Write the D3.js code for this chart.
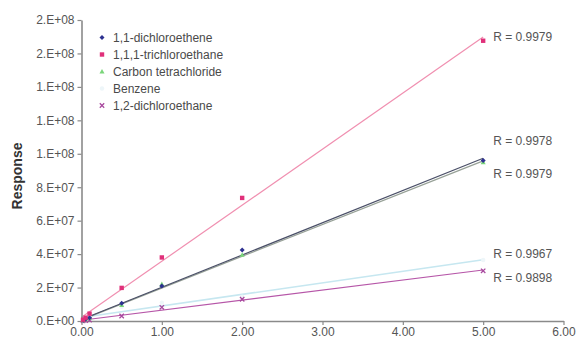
<!DOCTYPE html>
<html>
<head>
<meta charset="utf-8">
<script src="https://cdn.jsdelivr.net/npm/d3@7"></script>
<style>
  html, body { margin: 0; padding: 0; background: #fff; }
  svg { display: block; font-family: "Liberation Sans", Arial, sans-serif; }
</style>
</head>
<body>
<svg id="chart" width="579" height="340"></svg>
<script>
// Calibration concentrations
const concentrations = [0.02, 0.05, 0.1, 0.5, 1.0, 2.0, 5.0];

// Responses per compound
const dichloroethene11 = [0.4e6, 1.0e6, 2.0e6, 1.06e7, 2.1e7, 4.24e7, 9.6e7];
const trichloroethane111 = [0.8e6, 2.0e6, 4.4e6, 1.98e7, 3.8e7, 7.36e7, 1.676e8];
const carbonTetrachloride = [0.4e6, 1.0e6, 2.0e6, 9.6e6, 2.2e7, 3.96e7, 9.5e7];
const benzene = [0.5e6, 1.2e6, 2.4e6, 8.5e6, 1.1e7, 1.45e7, 3.65e7];
const dichloroethane12 = [0.1e6, 0.3e6, 0.6e6, 3.0e6, 8.2e6, 1.3e7, 3.0e7];

const seriesNames = ["1,1-dichloroethene", "1,1,1-trichloroethane", "Carbon tetrachloride", "Benzene", "1,2-dichloroethane"];
const rValues = ["R = 0.9978", "R = 0.9979", "R = 0.9979", "R = 0.9967", "R = 0.9898"];

// Axis ticks
const xTickValues = [0, 1, 2, 3, 4, 5, 6];
const yTickValues = [0, 2e7, 4e7, 6e7, 8e7, 1.0e8, 1.2e8, 1.4e8, 1.6e8, 1.8e8];
const yTickLabels = ["0.E+00", "2.E+07", "4.E+07", "6.E+07", "8.E+07", "1.E+08", "1.E+08", "1.E+08", "2.E+08", "2.E+08"];
const yTitle = "Response";

// Styling per series (kept apart from the values)
const styles = [
  { values: dichloroethene11, color: "#2d3190", line: "#4b5068", shape: "diamond", labelDy: -17 },
  { values: trichloroethane111, color: "#e0307a", line: "#f08fb0", shape: "square", labelDy: 0 },
  { values: carbonTetrachloride, color: "#7ad67a", line: "#6c7a6c", shape: "triangle", labelDy: 13 },
  { values: benzene, color: "#eef6f9", line: "#c6e7f0", shape: "circle", labelDy: -6 },
  { values: dichloroethane12, color: "#a8489e", line: "#b656a8", shape: "cross", labelDy: 8 }
];

const svg = d3.select("#chart");
const x = d3.scaleLinear().domain([0, 6]).range([81.5, 563.5]);
const y = d3.scaleLinear().domain([0, 1.8e8]).range([321, 20]);

const axisColor = "#8a8a8a";
const textColor = "#555";

// Least-squares trend line for each series
function fit(xs, ys) {
  const mx = d3.mean(xs), my = d3.mean(ys);
  let sxy = 0, sxx = 0;
  xs.forEach((v, i) => { sxy += (v - mx) * (ys[i] - my); sxx += (v - mx) * (v - mx); });
  const slope = sxy / sxx;
  return { slope, intercept: my - slope * mx };
}

// Draw order: benzene, purple, green, blue, pink
const order = [3, 4, 2, 0, 1];
order.forEach(i => {
  const s = styles[i];
  const f = fit(concentrations, s.values);
  const x0 = 0, x1 = d3.max(concentrations);
  svg.append("line")
    .attr("x1", x(x0)).attr("y1", y(f.intercept + f.slope * x0))
    .attr("x2", x(x1)).attr("y2", y(f.intercept + f.slope * x1))
    .attr("stroke", s.line).attr("stroke-width", i === 3 ? 1.6 : 1.2)
    .attr("opacity", i === 2 ? 0.7 : 1);
});

// Axes
const xAxis = d3.axisBottom(x).tickValues(xTickValues).tickFormat(d3.format(".2f")).tickSize(4).tickSizeOuter(0);
const gx = svg.append("g").attr("transform", `translate(0,${y(0)})`).call(xAxis);
gx.select(".domain").attr("stroke", axisColor).attr("stroke-width", 1.6);
gx.selectAll(".tick line").attr("stroke", axisColor).attr("stroke-width", 1.2);
gx.selectAll(".tick text").attr("fill", textColor).attr("font-size", 12).attr("dy", "0.7em");

const yAxis = d3.axisLeft(y).tickValues(yTickValues).tickFormat((d, i) => yTickLabels[i]).tickSize(4).tickSizeOuter(0);
const gy = svg.append("g").attr("transform", `translate(${x(0)},0)`).call(yAxis);
gy.select(".domain").attr("stroke", axisColor).attr("stroke-width", 1.6);
gy.selectAll(".tick line").attr("stroke", axisColor).attr("stroke-width", 1.2);
gy.selectAll(".tick text").attr("fill", textColor).attr("font-size", 12).attr("x", -7);
svg.selectAll(".tick text").attr("font-family", "'Liberation Sans', Arial, sans-serif");

svg.append("text")
  .attr("transform", "translate(22,176) rotate(-90)")
  .attr("text-anchor", "middle")
  .attr("font-size", 14).attr("font-weight", "bold").attr("fill", "#333")
  .text(yTitle);

// Marker shapes
function marker(g, shape, color, cx, cy) {
  if (shape === "square") {
    g.append("rect").attr("x", cx - 2.2).attr("y", cy - 2.2).attr("width", 4.4).attr("height", 4.4).attr("fill", color);
  } else if (shape === "diamond") {
    g.append("path").attr("d", `M${cx},${cy - 2.5}L${cx + 2.5},${cy}L${cx},${cy + 2.5}L${cx - 2.5},${cy}Z`).attr("fill", color);
  } else if (shape === "triangle") {
    g.append("path").attr("d", `M${cx},${cy - 2.6}L${cx + 2.5},${cy + 2}L${cx - 2.5},${cy + 2}Z`).attr("fill", color);
  } else if (shape === "circle") {
    g.append("circle").attr("cx", cx).attr("cy", cy).attr("r", 2.2).attr("fill", color);
  } else {
    g.append("path").attr("d", `M${cx - 2.2},${cy - 2.2}L${cx + 2.2},${cy + 2.2}M${cx + 2.2},${cy - 2.2}L${cx - 2.2},${cy + 2.2}`)
      .attr("stroke", color).attr("stroke-width", 1.3);
  }
}

const pts = svg.append("g");
order.forEach(i => {
  const s = styles[i];
  concentrations.forEach((c, k) => marker(pts, s.shape, s.color, x(c), y(s.values[k])));
});

// Correlation labels beside the highest standard
styles.forEach((s, i) => {
  const f = fit(concentrations, s.values);
  const xe = d3.max(concentrations);
  svg.append("text")
    .attr("x", x(xe) + 10)
    .attr("y", y(f.intercept + f.slope * xe) + s.labelDy)
    .attr("dy", "0.35em")
    .attr("font-size", 12).attr("fill", textColor)
    .text(rValues[i]);
});

// Legend
const legend = svg.append("g");
seriesNames.forEach((name, i) => {
  const cy = 37.5 + i * 17;
  marker(legend, styles[i].shape, styles[i].color, 102, cy);
  legend.append("text").attr("x", 113).attr("y", cy).attr("dy", "0.35em")
    .attr("font-size", 12).attr("fill", "#4a4a4a").text(name);
});
</script>
</body>
</html>
